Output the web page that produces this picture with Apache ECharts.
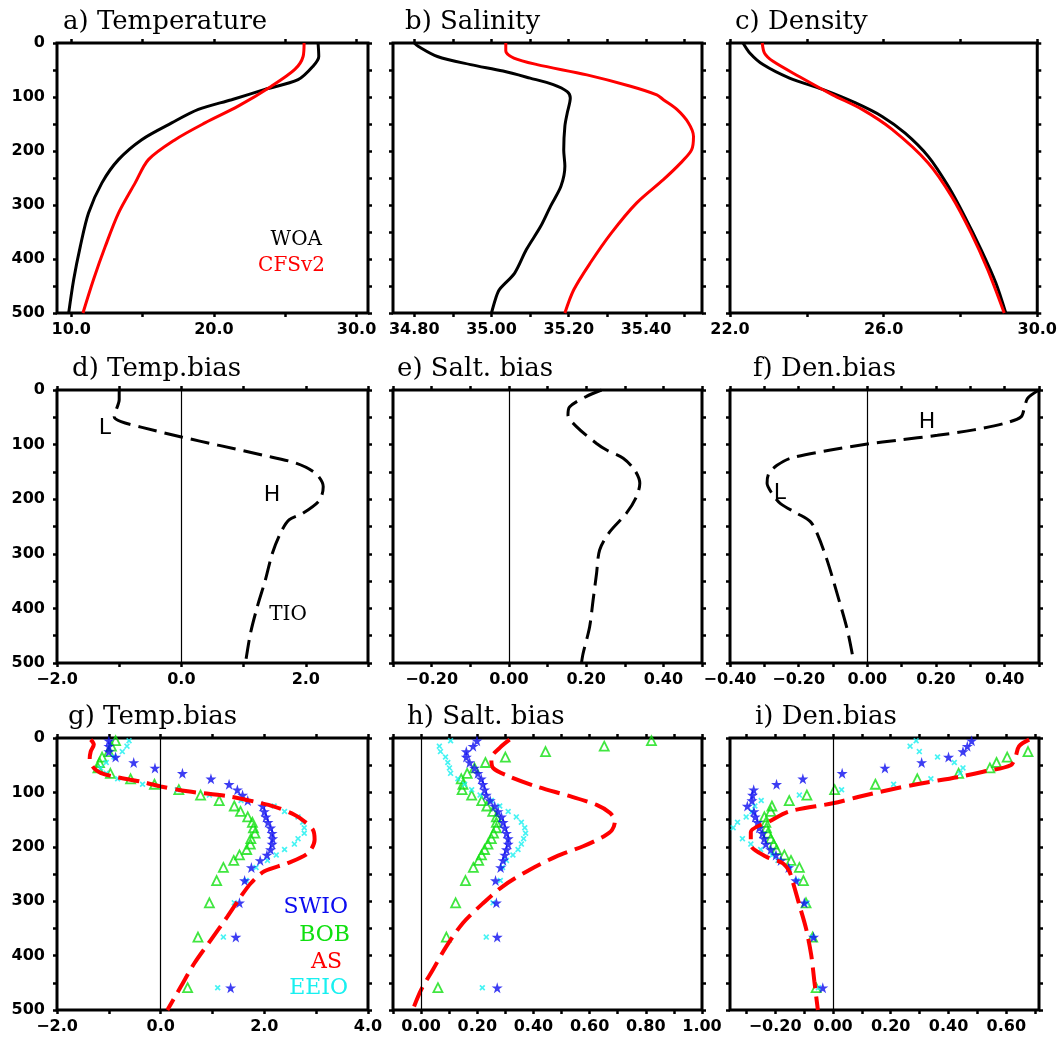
<!DOCTYPE html>
<html><head><meta charset="utf-8">
<script src="https://cdn.jsdelivr.net/npm/echarts@6/dist/echarts.min.js"></script>
<style>html,body{margin:0;padding:0;background:#fff}#c{width:1060px;height:1038px}</style>
</head><body><div id="c"></div>
<script>
// ---------------- DATA ----------------
// a) Temperature
const tempWOA_depth = [0,25,43,68,86,105,123,148,179,216,259,315,377,438,500];
const tempWOA       = [27.30,27.35,26.95,25.90,23.57,21.24,18.91,17.04,14.94,13.31,12.15,11.21,10.63,10.17,9.82];
const tempCFS_depth = [0,25,49,80,117,148,179,216,259,315,377,438,500];
const tempCFS       = [26.32,26.25,25.67,24.03,21.70,19.37,17.28,15.41,14.48,13.31,12.38,11.56,10.82];
// b) Salinity
const saltWOA_depth = [0,6,25,40,52,65,77,90,102,130,154,198,228,265,302,340,383,426,457,475,500];
const saltWOA       = [34.80,34.81,34.86,34.946,35.03,35.10,35.16,35.196,35.204,35.196,35.19,35.187,35.19,35.18,35.153,35.127,35.09,35.06,35.02,35.01,35.00];
const saltCFS_depth = [0,15,28,40,59,80,96,105,123,148,173,198,222,253,296,352,407,457,500];
const saltCFS       = [35.037,35.037,35.058,35.118,35.247,35.36,35.428,35.445,35.48,35.51,35.523,35.518,35.49,35.445,35.376,35.31,35.256,35.213,35.19];
// c) Density
const denWOA_depth = [0,19,40,65,86,111,136,167,210,265,321,383,444,500];
const denWOA       = [22.34,22.52,22.86,23.55,24.41,25.27,25.96,26.56,27.16,27.68,28.11,28.54,28.92,29.18];
const denCFS_depth = [0,19,34,62,96,123,160,222,284,352,420,500];
const denCFS       = [22.84,22.90,23.12,23.80,24.67,25.44,26.22,27.16,27.77,28.28,28.71,29.14];
// d) Temp.bias (TIO)
const dTIO_depth = [0,18,37,49,58,68,86,101,119,134,153,177,202,226,238,263,300,348,397,446,500];
const dTIO       = [-1.0,-1.0,-1.05,-1.08,-0.97,-0.65,0,0.59,1.30,1.84,2.16,2.28,2.22,1.95,1.73,1.59,1.46,1.35,1.22,1.11,1.03];
// e) Salt. bias (TIO)
const eTIO_depth = [0,12,31,46,67,98,110,125,147,171,196,226,260,293,336,385,434,483,500];
const eTIO       = [0.24,0.20,0.157,0.153,0.175,0.227,0.253,0.296,0.326,0.339,0.33,0.304,0.261,0.235,0.227,0.218,0.209,0.192,0.188];
// f) Den.bias (TIO)
const fTIO_depth = [0,15,31,49,61,73,83,92,99,110,125,138,153,171,190,208,226,241,263,312,373,440,500];
const fTIO       = [0.50,0.467,0.458,0.448,0.40,0.31,0.204,0.088,0,-0.107,-0.224,-0.263,-0.287,-0.292,-0.277,-0.253,-0.204,-0.166,-0.146,-0.117,-0.088,-0.058,-0.039];
// g-i) regional biases at model levels
const godasDepth = [5,15,25,35,45,55,65,75,85,95,105,115,125,135,145,155,165,175,185,195,205,215,225,238,262,303,366,459];
const gTempSWIO = [-1.0,-1.0,-1.0,-0.87,-0.52,-0.11,0.42,0.97,1.32,1.48,1.58,1.68,1.97,2.0,2.03,2.07,2.12,2.15,2.16,2.15,2.12,2.05,1.92,1.75,1.62,1.52,1.45,1.35];
const gTempBOB  = [-0.87,-0.95,-1.0,-1.13,-1.18,-1.21,-0.97,-0.58,-0.12,0.35,0.77,1.13,1.42,1.54,1.68,1.77,1.79,1.82,1.74,1.73,1.66,1.52,1.41,1.21,1.08,0.94,0.72,0.52];
const gTempEEIO = [-0.61,-0.65,-0.74,-0.9,-1.05,-1.16,-1.05,-0.83,-0.35,0.32,0.94,1.55,2.19,2.39,2.65,2.74,2.77,2.77,2.65,2.58,2.39,2.23,2.06,1.84,1.65,1.42,1.21,1.10];
const gTempAS_depth = [3,12,25,40,55,64,71,80,89,98,107,117,126,141,153,169,187,212,230,245,267,291,328,371,414,457,500];
const gTempAS       = [-1.35,-1.29,-1.35,-1.37,-1.29,-1.16,-0.9,-0.39,0,0.52,1.29,1.81,2.19,2.58,2.77,2.94,2.97,2.84,2.45,2.0,1.74,1.55,1.29,0.97,0.65,0.39,0.13];
const hSaltSWIO = [0.199,0.185,0.161,0.161,0.173,0.19,0.202,0.214,0.22,0.226,0.232,0.246,0.262,0.274,0.286,0.292,0.298,0.304,0.31,0.31,0.304,0.298,0.292,0.283,0.265,0.268,0.271,0.271];
const hSaltBOB  = [0.82,0.652,0.443,0.30,0.229,0.19,0.164,0.143,0.149,0.146,0.18,0.216,0.234,0.255,0.268,0.268,0.268,0.258,0.25,0.238,0.226,0.215,0.205,0.186,0.158,0.123,0.09,0.06];
const hSaltEEIO = [0.105,0.065,0.069,0.087,0.095,0.101,0.105,0.131,0.155,0.18,0.21,0.25,0.28,0.31,0.339,0.357,0.369,0.372,0.365,0.357,0.345,0.327,0.304,0.29,0.282,0.256,0.232,0.218];
const hSaltAS_depth = [3,18,37,55,71,89,107,123,138,153,169,181,199,218,242,273,304,340,383,426,463,500];
const hSaltAS       = [0.315,0.28,0.25,0.256,0.315,0.41,0.53,0.625,0.673,0.69,0.68,0.65,0.577,0.48,0.387,0.29,0.22,0.149,0.09,0.042,0,-0.03];
const iDenSWIO = [0.48,0.465,0.45,0.40,0.307,0.18,0.032,-0.104,-0.195,-0.274,-0.278,-0.28,-0.296,-0.273,-0.269,-0.261,-0.255,-0.244,-0.238,-0.232,-0.215,-0.197,-0.18,-0.153,-0.128,-0.099,-0.067,-0.035];
const iDenBOB  = [null,null,0.675,0.603,0.566,0.543,0.435,0.292,0.147,0.006,-0.09,-0.151,-0.211,-0.215,-0.237,-0.232,-0.23,-0.225,-0.215,-0.205,-0.195,-0.168,-0.145,-0.116,-0.102,-0.093,-0.07,-0.058];
const iDenEEIO = [0.288,0.267,0.299,0.362,0.42,0.45,0.44,0.339,0.21,0.03,-0.116,-0.248,-0.27,-0.28,-0.30,-0.33,-0.345,-0.357,-0.313,-0.284,-0.25,-0.21,-0.19,-0.15,-0.125,-0.09,-0.07,-0.05];
const iDenAS_depth = [3,15,34,50,62,72,84,95,108,120,135,152,173,196,218,230,245,264,307,350,399,448,500];
const iDenAS       = [0.679,0.644,0.632,0.615,0.52,0.43,0.30,0.197,0.09,0,-0.151,-0.215,-0.284,-0.284,-0.232,-0.174,-0.151,-0.139,-0.116,-0.093,-0.075,-0.064,-0.052];

// tick values and tick labels
const yTicks  = [0,50,100,150,200,250,300,350,400,450,500];
const yLabels = [0,100,200,300,400,500];
const xTicksA = [10,15,20,25,30],               xLabelsA = [10,20,30];
const xTicksB = [34.8,34.9,35.0,35.1,35.2,35.3,35.4,35.5], xLabelsB = [34.8,35.0,35.2,35.4];
const xTicksC = [22,24,26,28,30],               xLabelsC = [22,26,30];
const xTicksD = [-2,-1,0,1,2,3],                xLabelsD = [-2,0,2];
const xTicksE = [-0.3,-0.2,-0.1,0,0.1,0.2,0.3,0.4,0.5], xLabelsE = [-0.2,0,0.2,0.4];
const xTicksF = [-0.4,-0.3,-0.2,-0.1,0,0.1,0.2,0.3,0.4,0.5], xLabelsF = [-0.4,-0.2,0,0.2,0.4];
const xTicksG = [-2,-1,0,1,2,3,4],              xLabelsG = [-2,0,2,4];
const xTicksH = [-0.1,0,0.1,0.2,0.3,0.4,0.5,0.6,0.7,0.8,0.9,1.0], xLabelsH = [0,0.2,0.4,0.6,0.8,1.0];
const xTicksI = [-0.3,-0.2,-0.1,0,0.1,0.2,0.3,0.4,0.5,0.6,0.7], xLabelsI = [-0.2,0,0.2,0.4,0.6];

// ---------------- LAYOUT ----------------
const colL = [57, 393, 730], colW = [311, 309, 309];
const rowT = [43, 390, 738], rowH = [270, 273, 272];
const panels = [
  {t:'a) Temperature', r:0,c:0, min:9,     max:30.8,  ticks:xTicksA, labels:xLabelsA, dec:1, tx:63,  ty:9},
  {t:'b) Salinity',    r:0,c:1, min:34.745,max:35.545,ticks:xTicksB, labels:xLabelsB, dec:2, tx:405, ty:9},
  {t:'c) Density',     r:0,c:2, min:22,    max:30,    ticks:xTicksC, labels:xLabelsC, dec:1, tx:735, ty:9},
  {t:'d) Temp.bias',   r:1,c:0, min:-2,    max:3,     ticks:xTicksD, labels:xLabelsD, dec:1, tx:72,  ty:356},
  {t:'e) Salt. bias',  r:1,c:1, min:-0.3,  max:0.5,   ticks:xTicksE, labels:xLabelsE, dec:2, tx:397, ty:356},
  {t:'f) Den.bias',    r:1,c:2, min:-0.4,  max:0.5,   ticks:xTicksF, labels:xLabelsF, dec:2, tx:753, ty:356},
  {t:'g) Temp.bias',   r:2,c:0, min:-2,    max:4,     ticks:xTicksG, labels:xLabelsG, dec:1, tx:68,  ty:704},
  {t:'h) Salt. bias',  r:2,c:1, min:-0.1,  max:1.0,   ticks:xTicksH, labels:xLabelsH, dec:2, tx:407, ty:704},
  {t:'i) Den.bias',    r:2,c:2, min:-0.356,max:0.713, ticks:xTicksI, labels:xLabelsI, dec:2, tx:755, ty:704}
];

const pairs = (xs, ds) => xs.map((x,i)=>[x, ds[i]]).filter(p => p[0] !== null);
const fmt = (v, dec) => (v < -1e-9 ? '\u2212' : '') + Math.abs(v).toFixed(dec);

const STAR = 'path://M50,0 L61,35 L98,35 L68,57 L79,91 L50,70 L21,91 L32,57 L2,35 L39,35 Z';
const XMARK = 'path://M0,2 L2,0 L5,3 L8,0 L10,2 L7,5 L10,8 L8,10 L5,7 L2,10 L0,8 L3,5 Z';
const LABEL_FONT = {fontFamily:'DejaVu Sans', fontWeight:'bold', fontSize:16, color:'#000'};
const TICK = len => ({show:true, inside:false, length:len, lineStyle:{color:'#000', width:2.5}});
const NOLINE = {show:false, onZero:false};

const grid = [], xAxis = [], yAxis = [], title = [];
panels.forEach((p, k) => {
  grid.push({left: colL[p.c], top: rowT[p.r], width: colW[p.c], height: rowH[p.r],
             show: true, borderColor: '#000', borderWidth: 3, backgroundColor: 'transparent', containLabel: false});
  xAxis.push({type:'value', gridIndex:k, position:'bottom', min:p.min, max:p.max,
    axisLine:NOLINE, splitLine:{show:false},
    axisTick: Object.assign(TICK(4), {customValues: p.ticks}),
    axisLabel: Object.assign({show:true, margin:9, customValues: p.labels, formatter: v => fmt(v, p.dec)}, LABEL_FONT)});
  xAxis.push({type:'value', gridIndex:k, position:'top', min:p.min, max:p.max,
    axisLine:NOLINE, splitLine:{show:false},
    axisTick: Object.assign(TICK(4), {customValues: p.ticks}), axisLabel:{show:false}});
  yAxis.push({type:'value', gridIndex:k, position:'left', min:0, max:500, inverse:true,
    axisLine:NOLINE, splitLine:{show:false},
    axisTick: Object.assign(TICK(4), {customValues: yTicks}),
    axisLabel: Object.assign({show: p.c === 0, margin:12, customValues: yLabels, formatter: v => String(v)}, LABEL_FONT)});
  yAxis.push({type:'value', gridIndex:k, position:'right', min:0, max:500, inverse:true,
    axisLine:NOLINE, splitLine:{show:false},
    axisTick: Object.assign(TICK(4), {customValues: yTicks}), axisLabel:{show:false}});
  title.push({text:p.t, left:p.tx, top:p.ty, padding:0,
    textStyle:{fontFamily:'DejaVu Serif', fontWeight:'normal', fontSize:26, color:'#000'}});
});

const zeroLine = {silent:true, symbol:'none', label:{show:false},
  lineStyle:{color:'#000', width:1.2, type:'solid'}, data:[{xAxis:0}]};

function solid(k, name, data, color) {
  return {type:'line', name, xAxisIndex:2*k, yAxisIndex:2*k, data, showSymbol:false, symbol:'none',
    smooth:0.3, lineStyle:{color, width:3}, itemStyle:{color}};
}
function dashed(k, name, data, color, width, dash, withZero) {
  const s = {type:'line', name, xAxisIndex:2*k, yAxisIndex:2*k, data, showSymbol:false, symbol:'none',
    smooth:0.3, lineStyle:{color, width, type:dash}, itemStyle:{color}};
  if (withZero) s.markLine = zeroLine;
  return s;
}
function scat(k, name, data, symbol, size, style) {
  return {type:'scatter', name, xAxisIndex:2*k, yAxisIndex:2*k, data, symbol, symbolSize:size, itemStyle:style};
}

const BLUE = '#0c0cf0', GREEN = '#10e010', CYAN = '#18f0f0', RED = '#ff0000';
const series = [
  solid(0, 'WOA',   pairs(tempWOA, tempWOA_depth), '#000'),
  solid(0, 'CFSv2', pairs(tempCFS, tempCFS_depth), RED),
  solid(1, 'WOA',   pairs(saltWOA, saltWOA_depth), '#000'),
  solid(1, 'CFSv2', pairs(saltCFS, saltCFS_depth), RED),
  solid(2, 'WOA',   pairs(denWOA, denWOA_depth), '#000'),
  solid(2, 'CFSv2', pairs(denCFS, denCFS_depth), RED),
  dashed(3, 'TIO', pairs(dTIO, dTIO_depth), '#000', 3, [19, 8], true),
  dashed(4, 'TIO', pairs(eTIO, eTIO_depth), '#000', 3, [19, 8], true),
  dashed(5, 'TIO', pairs(fTIO, fTIO_depth), '#000', 3, [19, 8], true)
];
const regional = [
  [6, gTempAS, gTempAS_depth, gTempBOB, gTempEEIO, gTempSWIO],
  [7, hSaltAS, hSaltAS_depth, hSaltBOB, hSaltEEIO, hSaltSWIO],
  [8, iDenAS,  iDenAS_depth,  iDenBOB,  iDenEEIO,  iDenSWIO]
];
regional.forEach(([k, as, asD, bob, eeio, swio]) => {
  series.push(dashed(k, 'AS', pairs(as, asD), RED, 4, [21, 8], true));
  series.push(scat(k, 'BOB',  pairs(bob, godasDepth),  'triangle', 9, {color:'rgba(0,0,0,0)', borderColor:GREEN, borderWidth:1.8}));
  series.push(scat(k, 'EEIO', pairs(eeio, godasDepth), XMARK, 6, {color:CYAN}));
  series.push(scat(k, 'SWIO', pairs(swio, godasDepth), STAR, 11, {color:BLUE}));
});

function txt(text, x, y, color, font, align) {
  return {type:'text', x, y, silent:true,
    style:{text, fill:color, font, textAlign:align, align:align, textVerticalAlign:'middle', verticalAlign:'middle'}};
}
const SERIF = '"DejaVu Serif"', SANS = '"DejaVu Sans"';
const graphic = [
  txt('WOA',   322, 240, '#000', '20px ' + SERIF, 'right'),
  txt('CFSv2', 325, 266, RED,    '20px ' + SERIF, 'right'),
  txt('L',   105, 428, '#000', '22px ' + SANS, 'center'),
  txt('H',   272, 495, '#000', '22px ' + SANS, 'center'),
  txt('TIO', 288, 615, '#000', '20px ' + SERIF, 'center'),
  txt('H',   927, 422, '#000', '22px ' + SANS, 'center'),
  txt('L',   780, 493, '#000', '22px ' + SANS, 'center'),
  txt('SWIO', 348, 907, BLUE,  '22px ' + SERIF, 'right'),
  txt('BOB',  350, 935, GREEN, '22px ' + SERIF, 'right'),
  txt('AS',   342, 962, RED,   '22px ' + SERIF, 'right'),
  txt('EEIO', 348, 988, CYAN,  '22px ' + SERIF, 'right')
];

const chart = echarts.init(document.getElementById('c'), null, {renderer:'canvas'});
chart.setOption({backgroundColor:'#fff', animation:false, title, grid, xAxis, yAxis, series, graphic});
</script></body></html>
